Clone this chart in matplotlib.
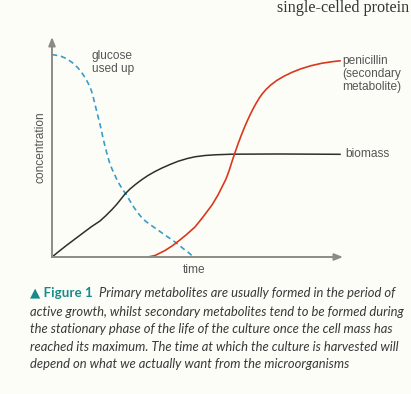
import matplotlib.pyplot as plt

# values (time and concentration in arbitrary units, 0-10)
glucose_t = [0.000, 0.137, 0.309, 0.447, 0.550, 0.670, 0.780, 0.893, 1.007, 1.100,
             1.179, 1.237, 1.296, 1.357, 1.409, 1.467, 1.522, 1.581, 1.639, 1.698,
             1.753, 1.811, 1.866, 1.924, 1.983, 2.062, 2.155, 2.234, 2.326, 2.440,
             2.553, 2.680, 2.818, 2.955, 3.093, 3.230, 3.368, 3.540, 3.711, 3.883,
             4.055, 4.227, 4.399, 4.570, 4.708, 4.845]
glucose_c = [9.196, 9.173, 9.123, 9.045, 8.968, 8.864, 8.741, 8.591, 8.409, 8.227,
             8.059, 7.909, 7.759, 7.545, 7.305, 7.000, 6.695, 6.386, 6.091, 5.750,
             5.409, 5.091, 4.805, 4.523, 4.273, 4.000, 3.741, 3.500, 3.286, 3.045,
             2.832, 2.545, 2.250, 2.000, 1.773, 1.614, 1.477, 1.318, 1.159, 1.000,
             0.841, 0.682, 0.500, 0.318, 0.182, 0.023]

biomass_t = [0.000, 0.275, 0.515, 0.790, 1.065, 1.340, 1.649, 1.856, 2.062, 2.234,
             2.371, 2.509, 2.680, 2.887, 3.093, 3.299, 3.540, 3.780, 4.055, 4.330,
             4.639, 4.914, 5.258, 5.601, 6.186, 7.835, 9.897]
biomass_c = [0.000, 0.295, 0.545, 0.818, 1.091, 1.364, 1.636, 1.886, 2.159, 2.409,
             2.636, 2.864, 3.091, 3.318, 3.523, 3.705, 3.886, 4.045, 4.205, 4.350,
             4.473, 4.555, 4.614, 4.645, 4.673, 4.682, 4.668]

penicillin_t = [3.299, 3.540, 3.883, 4.124, 4.330, 4.605, 4.914, 5.189, 5.498, 5.704,
                5.842, 5.979, 6.082, 6.186, 6.289, 6.392, 6.495, 6.598, 6.701, 6.804,
                6.907, 7.010, 7.113, 7.216, 7.354, 7.526, 7.732, 7.973, 8.247, 8.557,
                8.900, 9.278, 9.656, 9.897]
penicillin_c = [0.000, 0.068, 0.295, 0.500, 0.705, 1.000, 1.364, 1.818, 2.364, 2.818,
                3.182, 3.545, 3.909, 4.341, 4.750, 5.136, 5.500, 5.841, 6.159, 6.455,
                6.727, 6.977, 7.205, 7.400, 7.614, 7.827, 8.032, 8.218, 8.395, 8.555,
                8.695, 8.809, 8.882, 8.918]

caption_lines = [
    "active growth, whilst secondary metabolites tend to be formed during",
    "the stationary phase of the life of the culture once the cell mass has",
    "reached its maximum. The time at which the culture is harvested will",
    "depend on what we actually want from the microorganisms",
]

bg = "#fdfdf8"
W, H = 411, 394

fig = plt.figure(figsize=(W / 100, H / 100), dpi=100, facecolor=bg)
ax = fig.add_axes([52 / W, 1 - 257 / H, 291 / W, 220 / H])
ax.set_facecolor(bg)
ax.set_xlim(0, 10)
ax.set_ylim(0, 10)
for s in ax.spines.values():
    s.set_visible(False)
ax.set_xticks([])
ax.set_yticks([])

# axes with arrow heads
arrow = dict(arrowstyle="-|>,head_length=0.5,head_width=0.2", color="#8c8c86", lw=1.4,
             shrinkA=0, shrinkB=0)
ax.annotate("", xy=(1, 0), xytext=(0, 0), xycoords="axes fraction", arrowprops=arrow)
ax.annotate("", xy=(0, 1), xytext=(0, 0), xycoords="axes fraction", arrowprops=arrow)

ax.plot(glucose_t, glucose_c, color="#3a9cc9", lw=1.2, ls=(0, (3.2, 2.2)),
        solid_joinstyle="round", clip_on=False)
ax.plot(biomass_t, biomass_c, color="#2e2e2e", lw=1.1, solid_joinstyle="round",
        clip_on=False)
ax.plot(penicillin_t, penicillin_c, color="#d8391d", lw=1.2, solid_joinstyle="round",
        clip_on=False)

lab = dict(fontsize=8.6, color="#555555", family="Liberation Sans")
ax.text(1.36, 8.85, "glucose\nused up", va="center", ha="left", linespacing=1.15, **lab)
ax.text(9.97, 9.2, "penicillin\n(secondary\nmetabolite)", va="top", ha="left",
        linespacing=1.15, **lab)
ax.text(10.07, 4.68, "biomass", va="center", ha="left", **lab)
ax.text(-0.4, 5.0, "concentration", rotation=90, va="center", ha="center", **lab)
ax.text(4.9, -0.6, "time", va="center", ha="center", **lab)

# caption
fig.text(30 / W, 1 - 293 / H, "\u25b2 Figure 1", color="#178a8c", fontsize=9.6,
         fontweight="bold", family=["Lato", "DejaVu Sans"], va="center", ha="left")
fig.text(99 / W, 1 - 293 / H, "Primary metabolites are usually formed in the period of",
         color="#383838", fontsize=9.4, style="italic", family="Lato", va="center", ha="left")
for i, line in enumerate(caption_lines):
    fig.text(30 / W, 1 - (311.5 + i * 17.6) / H, line, color="#383838", fontsize=9.4,
             style="italic", family="Lato", va="center", ha="left")

# running head from the page above
fig.text(409 / W, 1 - 8 / H, "single-celled protein", color="#333333", fontsize=11.6,
         family="Liberation Serif", va="center", ha="right")

fig.savefig("out.png", dpi=100, facecolor=bg)
